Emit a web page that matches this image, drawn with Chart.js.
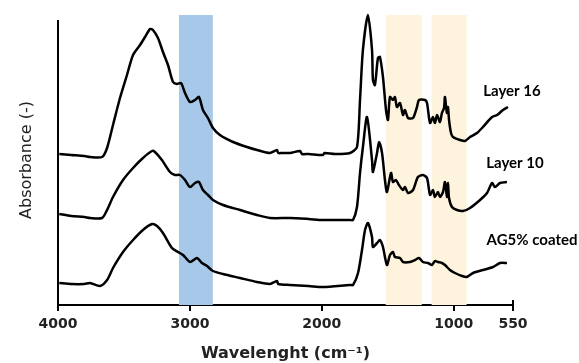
<!DOCTYPE html>
<html>
<head>
<meta charset="utf-8">
<script src="https://cdn.jsdelivr.net/npm/chart.js@4"></script>
<style>
  html, body { margin: 0; padding: 0; background: #fff; }
  #wrap { width: 579px; height: 363px; }
</style>
</head>
<body>
<div id="wrap"><canvas id="ftir"></canvas></div>
<script>
// Datos (absorbancia desplazada, unidades arbitrarias)
const wnLayer16 = [3990, 3900, 3800, 3757, 3666, 3628, 3583, 3530, 3477, 3431, 3378, 3340, 3302, 3280, 3242, 3204, 3166, 3128, 3098, 3067, 3037, 2999, 2961, 2931, 2901, 2863, 2825, 2772, 2673, 2567, 2491, 2393, 2340, 2330, 2300, 2241, 2165, 2150, 2100, 1991, 1980, 1900, 1786, 1733, 1710, 1688, 1650, 1619, 1612, 1597, 1574, 1559, 1536, 1513, 1498, 1483, 1460, 1445, 1430, 1407, 1384, 1369, 1346, 1308, 1278, 1263, 1217, 1202, 1179, 1157, 1142, 1126, 1104, 1089, 1073, 1066, 1051, 1043, 1035, 1020, 1005, 952, 914, 876, 823, 778, 709, 671, 626, 588];
const absLayer16 = [151, 150, 149, 148, 148, 157, 180, 207, 230, 250, 260, 268, 276, 275, 267, 253, 240, 223, 221, 222, 212, 203, 205, 208, 195, 187, 177, 170, 163, 158, 155, 152, 155, 152, 152, 152, 154, 151, 151, 150, 152, 151, 152, 158, 205, 255, 290, 255, 225, 220, 247, 248, 228, 195, 185, 208, 205, 208, 198, 202, 190, 195, 187, 187, 198, 205, 205, 202, 182, 188, 182, 190, 183, 192, 197, 208, 192, 198, 185, 172, 168, 165, 164, 168, 172, 178, 188, 190, 195, 198];

const wnLayer10 = [3990, 3900, 3800, 3757, 3666, 3628, 3583, 3507, 3431, 3356, 3287, 3265, 3212, 3151, 3113, 3075, 3037, 2999, 2961, 2931, 2901, 2863, 2825, 2749, 2620, 2491, 2393, 2241, 2100, 1991, 1786, 1763, 1733, 1710, 1688, 1657, 1619, 1612, 1581, 1566, 1543, 1521, 1506, 1475, 1460, 1437, 1415, 1384, 1369, 1346, 1308, 1271, 1233, 1202, 1179, 1157, 1142, 1119, 1104, 1081, 1066, 1051, 1043, 1035, 1013, 975, 929, 876, 800, 747, 709, 687, 649, 596];
const absLayer10 = [91, 89, 88, 87, 87, 95, 108, 125, 137, 147, 154, 153, 145, 133, 130, 130, 125, 118, 122, 123, 115, 110, 105, 100, 95, 90, 87, 87, 86, 85, 85, 85, 98, 132, 158, 188, 145, 133, 152, 163, 152, 125, 113, 132, 123, 125, 120, 115, 118, 112, 115, 128, 130, 127, 110, 115, 108, 113, 108, 113, 123, 108, 122, 107, 98, 95, 94, 97, 105, 112, 122, 118, 122, 123];

const wnAG5 = [3990, 3900, 3800, 3757, 3681, 3628, 3583, 3507, 3431, 3356, 3287, 3249, 3204, 3136, 3090, 3052, 2999, 2946, 2908, 2870, 2825, 2749, 2620, 2491, 2393, 2340, 2330, 2241, 2100, 1991, 1786, 1763, 1725, 1695, 1672, 1650, 1619, 1612, 1581, 1559, 1536, 1506, 1483, 1460, 1445, 1407, 1384, 1331, 1293, 1263, 1233, 1195, 1164, 1142, 1119, 1089, 1066, 1028, 990, 937, 899, 853, 778, 702, 649, 596];
const absAG5 = [22, 21, 21, 22, 19, 25, 37, 53, 65, 75, 81, 79, 72, 57, 53, 50, 43, 47, 42, 39, 34, 31, 27, 23, 21, 24, 21, 20, 19, 18, 20, 20, 32, 55, 75, 82, 68, 58, 62, 65, 58, 40, 50, 53, 48, 47, 43, 43, 45, 47, 43, 42, 40, 44, 43, 42, 40, 35, 32, 29, 28, 32, 35, 38, 42, 42];

const seriesNames = ['Layer 16', 'Layer 10', 'AG5% coated'];
const xTicks = [4000, 3000, 2000, 1000, 550];

// Bandas marcadas (cm-1)
const blueBands = [[3083, 2826]];
const yellowBands = [[1515, 1242], [1167, 902]];

// Donde va cada etiqueta (en unidades de datos)
const labelAnchors = [
  { x: 558, y: 214 },
  { x: 535, y: 142 },
  { x: 406, y: 65 }
];

function toPoints(xs, ys) {
  return xs.map((x, i) => ({ x: x, y: ys[i] }));
}

function lineDataset(name, xs, ys) {
  return {
    label: name,
    data: toPoints(xs, ys),
    borderColor: '#000',
    borderWidth: 2.5,
    pointRadius: 0,
    fill: false,
    tension: 0.25,
    clip: false
  };
}

const bandsPlugin = {
  id: 'bands',
  beforeDatasetsDraw(chart) {
    const { ctx, chartArea, scales } = chart;
    const x = scales.x;
    ctx.save();
    const paint = (bands, color) => {
      ctx.fillStyle = color;
      bands.forEach(b => {
        const a = x.getPixelForValue(b[0]);
        const c = x.getPixelForValue(b[1]);
        ctx.fillRect(a, chartArea.top, c - a, chartArea.bottom - chartArea.top);
      });
    };
    paint(blueBands, '#a8c8e9');
    paint(yellowBands, '#fef4dd');
    ctx.restore();
  },
  afterDraw(chart) {
    const { ctx, chartArea, scales } = chart;
    ctx.save();
    // eje y
    ctx.strokeStyle = '#000';
    ctx.lineWidth = 2;
    ctx.beginPath();
    ctx.moveTo(chartArea.left, scales.y.getPixelForValue(285));
    ctx.lineTo(chartArea.left, chartArea.bottom + 1);
    ctx.stroke();
    // marca en 550
    const px = scales.x.getPixelForValue(550);
    ctx.beginPath();
    ctx.moveTo(px, chartArea.bottom - 5);
    ctx.lineTo(px, chartArea.bottom);
    ctx.stroke();
    // etiquetas de las curvas
    ctx.fillStyle = '#000';
    ctx.font = 'bold 15px Lato';
    ctx.textAlign = 'center';
    ctx.textBaseline = 'middle';
    seriesNames.forEach((name, i) => {
      const a = labelAnchors[i];
      ctx.fillText(name, scales.x.getPixelForValue(a.x), scales.y.getPixelForValue(a.y));
    });
    ctx.restore();
  }
};

const ctx = document.getElementById('ftir').getContext('2d');
new Chart(ctx, {
  type: 'line',
  data: {
    datasets: [
      lineDataset(seriesNames[0], wnLayer16, absLayer16),
      lineDataset(seriesNames[1], wnLayer10, absLayer10),
      lineDataset(seriesNames[2], wnAG5, absAG5)
    ]
  },
  options: {
    responsive: true,
    maintainAspectRatio: false,
    animation: false,
    layout: { padding: { top: 15, right: 66, left: 0, bottom: 0 } },
    plugins: {
      legend: { display: false },
      tooltip: { enabled: false }
    },
    scales: {
      x: {
        type: 'linear',
        reverse: true,
        min: 550,
        max: 4000,
        afterBuildTicks: scale => { scale.ticks = xTicks.map(v => ({ value: v })); },
        afterFit: scale => { scale.height = 58; },
        ticks: {
          color: '#222',
          font: { family: 'DejaVu Sans', size: 14, weight: 'bold' },
          padding: 5,
          maxRotation: 0,
          autoSkip: false,
          callback: v => String(v)
        },
        grid: {
          drawOnChartArea: false,
          drawTicks: true,
          tickLength: 6,
          color: '#000',
          lineWidth: 2
        },
        border: { display: true, color: '#000', width: 2 },
        title: {
          display: true,
          text: 'Wavelenght (cm\u207B\u00B9)',
          color: '#222',
          font: { family: 'DejaVu Sans', size: 16, weight: 'bold' },
          padding: { top: 0, bottom: 0 }
        }
      },
      y: {
        min: 0,
        max: 290,
        afterFit: scale => { scale.width = 58; },
        ticks: { display: false },
        grid: { display: false },
        border: { display: false },
        title: {
          display: true,
          text: 'Absorbance (-)',
          color: '#222',
          font: { family: 'DejaVu Sans', size: 16 },
          padding: { top: 17, bottom: 0 }
        }
      }
    }
  },
  plugins: [bandsPlugin]
});
</script>
</body>
</html>
